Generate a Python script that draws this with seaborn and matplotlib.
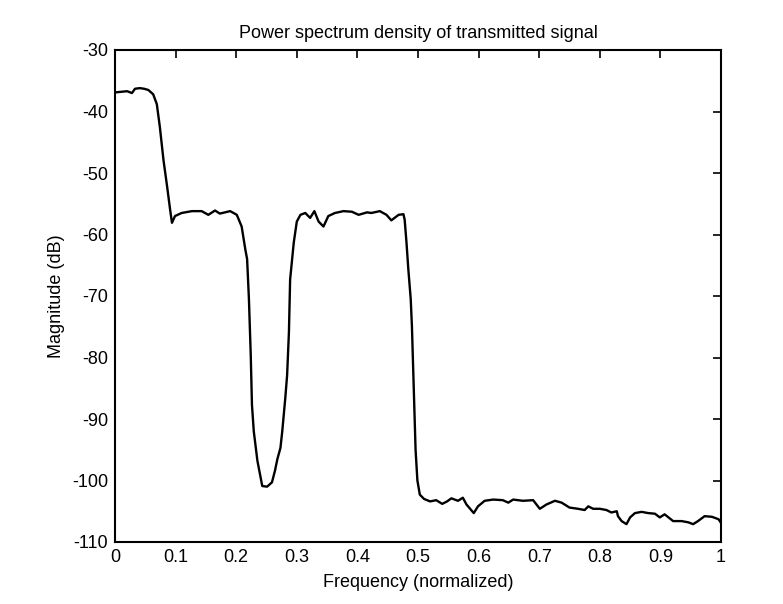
import matplotlib
matplotlib.use("Agg")
import matplotlib.pyplot as plt
import seaborn as sns
import pandas as pd

freq = [0.000, 0.010, 0.020, 0.028, 0.033, 0.041, 0.048, 0.055, 0.063, 0.069,
        0.074, 0.080, 0.086, 0.091, 0.094, 0.099, 0.110, 0.127, 0.143, 0.154,
        0.165, 0.173, 0.190, 0.201, 0.209, 0.215, 0.218, 0.221, 0.224, 0.226,
        0.229, 0.235, 0.243, 0.251, 0.259, 0.264, 0.268, 0.273, 0.276, 0.281,
        0.284, 0.287, 0.289, 0.295, 0.300, 0.306, 0.314, 0.322, 0.329, 0.336,
        0.344, 0.352, 0.363, 0.377, 0.391, 0.402, 0.416, 0.423, 0.437, 0.448,
        0.456, 0.468, 0.476, 0.478, 0.481, 0.484, 0.488, 0.490, 0.493, 0.496,
        0.499, 0.503, 0.510, 0.520, 0.530, 0.540, 0.548, 0.555, 0.566, 0.574,
        0.580, 0.592, 0.599, 0.610, 0.624, 0.640, 0.649, 0.657, 0.673, 0.690,
        0.701, 0.712, 0.726, 0.737, 0.750, 0.764, 0.775, 0.781, 0.789, 0.800,
        0.811, 0.819, 0.828, 0.830, 0.836, 0.844, 0.850, 0.858, 0.869, 0.880,
        0.891, 0.899, 0.907, 0.921, 0.935, 0.946, 0.954, 0.962, 0.973, 0.985,
        0.996, 1.000]

magnitude = [-36.9, -36.8, -36.7, -37.0, -36.3, -36.2, -36.3, -36.5, -37.2, -38.8,
             -42.5, -47.9, -52.2, -56.0, -58.1, -57.0, -56.5, -56.2, -56.2, -56.8,
             -56.1, -56.6, -56.2, -56.8, -58.7, -62.4, -64.0, -70.5, -79.6, -87.7,
             -92.0, -96.8, -100.9, -101.0, -100.3, -98.4, -96.5, -94.7, -92.0, -86.6,
             -82.9, -75.9, -67.3, -61.3, -57.9, -56.8, -56.5, -57.3, -56.2, -57.9,
             -58.7, -57.0, -56.5, -56.2, -56.3, -56.8, -56.4, -56.5, -56.2, -56.8,
             -57.7, -56.8, -56.7, -57.6, -61.3, -65.6, -70.5, -75.0, -85.0, -95.0,
             -100.0, -102.3, -103.0, -103.4, -103.2, -103.8, -103.4, -102.9, -103.3, -102.8,
             -103.9, -105.3, -104.2, -103.3, -103.1, -103.2, -103.6, -103.1, -103.3, -103.2,
             -104.6, -103.9, -103.3, -103.6, -104.4, -104.6, -104.8, -104.2, -104.6, -104.6,
             -104.8, -105.2, -105.0, -105.8, -106.6, -107.1, -106.0, -105.3, -105.1, -105.3,
             -105.4, -106.0, -105.5, -106.6, -106.6, -106.8, -107.1, -106.6, -105.8, -105.9,
             -106.3, -106.9]

x_ticks = [0, 0.1, 0.2, 0.3, 0.4, 0.5, 0.6, 0.7, 0.8, 0.9, 1]
x_tick_labels = ["0", "0.1", "0.2", "0.3", "0.4", "0.5", "0.6", "0.7", "0.8", "0.9", "1"]
y_ticks = [-110, -100, -90, -80, -70, -60, -50, -40, -30]

title = "Power spectrum density of transmitted signal"
xlabel = "Frequency (normalized)"
ylabel = "Magnitude (dB)"

sns.set_theme(style="white")
plt.rcParams["font.family"] = ["Liberation Sans", "DejaVu Sans"]
plt.rcParams["axes.unicode_minus"] = False

df = pd.DataFrame({"freq": freq, "magnitude": magnitude})

fig = plt.figure(figsize=(7.83, 6.04), dpi=100)
ax = fig.add_axes([115 / 783, 1 - 542 / 604, (721 - 115) / 783, (542 - 50) / 604])

sns.lineplot(data=df, x="freq", y="magnitude", color="black", linewidth=1.7,
             ax=ax, sort=False, estimator=None)

ax.set_xlim(0, 1)
ax.set_ylim(-110, -30)
ax.set_xticks(x_ticks)
ax.set_xticklabels(x_tick_labels)
ax.set_yticks(y_ticks)
ax.tick_params(direction="in", top=True, right=True, length=6, width=1.2,
               labelsize=13, colors="black", pad=5)
for s in ax.spines.values():
    s.set_linewidth(1.5)
    s.set_color("black")
ax.set_title(title, fontsize=13, color="black", pad=9)
ax.set_xlabel(xlabel, fontsize=13, color="black", labelpad=6)
ax.set_ylabel(ylabel, fontsize=13, color="black", labelpad=5)
ax.grid(False)

fig.savefig("out.png", dpi=100, facecolor="white")
